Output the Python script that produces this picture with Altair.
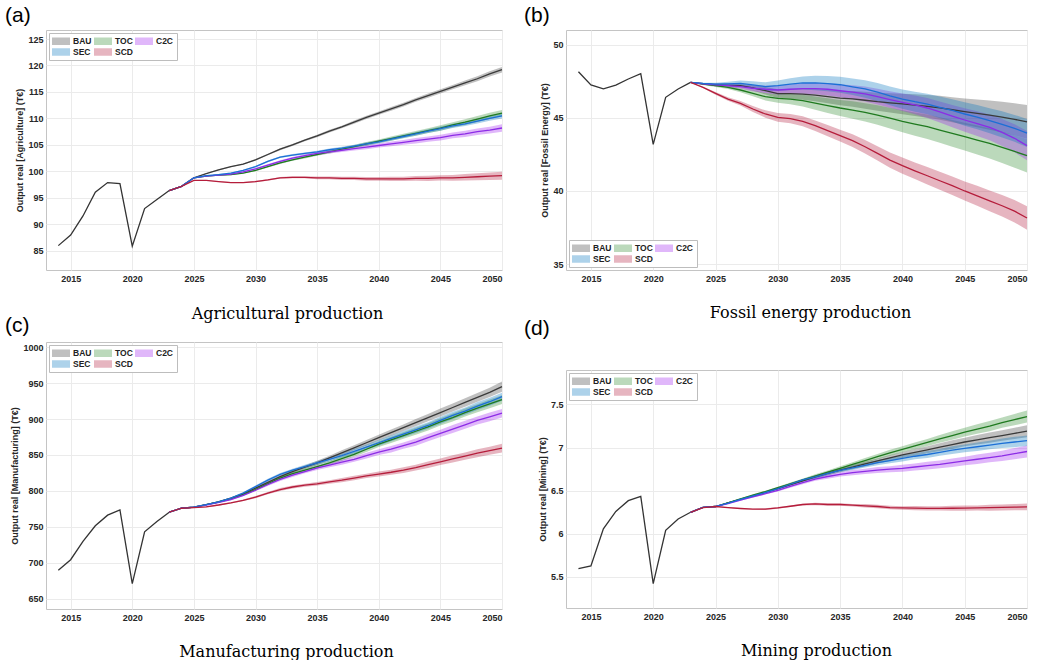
import altair as alt
import pandas as pd

SCEN_ORDER = ["BAU", "TOC", "C2C", "SEC", "SCD"]
FILL_COLORS = ["#3c3c3c", "#2a8a2a", "#a020f0", "#0072bd", "#b0183a"]
LINE_COLORS = ["#3a3a3a", "#1f7a1f", "#8c2ce6", "#1c6fd6", "#b51d3b"]
HIST_COLOR = "#333333"
SANS = "Liberation Sans"
SERIF = "DejaVu Serif"

HIST_YEARS = [2014, 2015, 2016, 2017, 2018, 2019, 2020, 2021, 2022, 2023]
SCEN_YEARS = [2023, 2024, 2025, 2026, 2027, 2028, 2029, 2030, 2031, 2032, 2033, 2034, 2035, 2036,
              2037, 2038, 2039, 2040, 2041, 2042, 2043, 2044, 2045, 2046, 2047, 2048, 2049, 2050]
X_TICKS = [2015, 2020, 2025, 2030, 2035, 2040, 2045, 2050]

# ---------- (a) Agriculture ----------
A_HIST = [86.0, 88.0, 91.6, 96.1, 97.9, 97.7, 85.9, 93.0, 94.7, 96.4]
A_BAU = [96.4, 97.2, 98.8, 99.6, 100.3, 100.9, 101.4, 102.2, 103.2, 104.2, 105.0, 105.9, 106.7, 107.6,
         108.4, 109.3, 110.2, 111.0, 111.8, 112.6, 113.5, 114.3, 115.1, 115.9, 116.7, 117.5, 118.4, 119.2]
A_TOC = [96.4, 97.2, 98.8, 99.1, 99.3, 99.4, 99.7, 100.2, 100.9, 101.6, 102.2, 102.7, 103.2, 103.7,
         104.2, 104.7, 105.2, 105.7, 106.2, 106.7, 107.2, 107.7, 108.2, 108.8, 109.3, 109.9, 110.5, 111.0]
A_C2C = [96.4, 97.2, 98.8, 99.1, 99.3, 99.5, 99.9, 100.5, 101.2, 101.9, 102.5, 103.0, 103.4, 103.7,
         104.0, 104.3, 104.6, 104.9, 105.2, 105.5, 105.8, 106.1, 106.4, 106.8, 107.1, 107.5, 107.8, 108.2]
A_SEC = [96.4, 97.2, 98.8, 99.2, 99.4, 99.7, 100.2, 100.9, 101.9, 102.7, 103.1, 103.4, 103.7, 104.1,
         104.4, 104.8, 105.2, 105.6, 106.1, 106.6, 107.1, 107.6, 108.1, 108.6, 109.0, 109.5, 110.0, 110.5]
A_SCD = [96.4, 97.2, 98.3, 98.3, 98.1, 97.9, 97.9, 98.1, 98.4, 98.8, 98.9, 98.9, 98.8, 98.8,
         98.7, 98.7, 98.6, 98.6, 98.6, 98.6, 98.7, 98.7, 98.8, 98.8, 98.9, 99.0, 99.1, 99.2]
A_BAU_BAND = [0, 0, 0.05, 0.05, 0.1, 0.1, 0.1, 0.15, 0.15, 0.2, 0.2, 0.2, 0.25, 0.25,
              0.25, 0.3, 0.3, 0.3, 0.35, 0.35, 0.35, 0.4, 0.4, 0.4, 0.45, 0.45, 0.5, 0.5]
A_TOC_BAND = [0, 0, 0.05, 0.05, 0.1, 0.1, 0.1, 0.15, 0.15, 0.2, 0.2, 0.25, 0.25, 0.3,
              0.3, 0.3, 0.35, 0.35, 0.4, 0.4, 0.45, 0.45, 0.5, 0.5, 0.55, 0.55, 0.6, 0.6]
A_C2C_BAND = [0, 0, 0.05, 0.05, 0.1, 0.1, 0.15, 0.15, 0.2, 0.2, 0.25, 0.25, 0.3, 0.3,
              0.35, 0.35, 0.4, 0.4, 0.45, 0.45, 0.5, 0.5, 0.55, 0.55, 0.6, 0.6, 0.65, 0.7]
A_SEC_BAND = [0, 0, 0.05, 0.05, 0.1, 0.1, 0.1, 0.15, 0.15, 0.15, 0.2, 0.2, 0.2, 0.25,
              0.25, 0.25, 0.3, 0.3, 0.3, 0.35, 0.35, 0.35, 0.4, 0.4, 0.4, 0.45, 0.45, 0.5]
A_SCD_BAND = [0, 0, 0.05, 0.05, 0.1, 0.1, 0.1, 0.15, 0.15, 0.15, 0.2, 0.2, 0.25, 0.25,
              0.3, 0.3, 0.35, 0.35, 0.4, 0.4, 0.45, 0.5, 0.5, 0.55, 0.6, 0.65, 0.7, 0.75]

# ---------- (b) Fossil energy ----------
B_HIST = [48.15, 47.25, 46.98, 47.23, 47.65, 48.02, 43.18, 46.4, 46.97, 47.42]
B_BAU = [47.42, 47.33, 47.25, 47.22, 47.2, 47.05, 46.85, 46.65, 46.65, 46.62, 46.55, 46.45, 46.35, 46.3,
         46.2, 46.1, 46.02, 45.95, 45.87, 45.78, 45.68, 45.55, 45.42, 45.3, 45.18, 45.05, 44.9, 44.72]
B_TOC = [47.42, 47.3, 47.2, 47.08, 46.9, 46.67, 46.44, 46.33, 46.28, 46.17, 46.0, 45.83, 45.67, 45.53,
         45.37, 45.19, 44.98, 44.76, 44.57, 44.39, 44.16, 43.94, 43.71, 43.48, 43.25, 42.98, 42.7, 42.41]
B_C2C = [47.42, 47.32, 47.25, 47.2, 47.13, 47.02, 46.95, 46.9, 46.95, 47.0, 47.0, 46.95, 46.85, 46.75,
         46.63, 46.45, 46.25, 46.06, 45.88, 45.67, 45.4, 45.12, 44.85, 44.6, 44.35, 44.0, 43.6, 43.1]
B_SEC = [47.42, 47.35, 47.3, 47.32, 47.35, 47.25, 47.13, 47.2, 47.3, 47.38, 47.38, 47.33, 47.26, 47.12,
         46.97, 46.75, 46.5, 46.28, 46.1, 45.94, 45.72, 45.5, 45.26, 45.05, 44.8, 44.55, 44.28, 43.96]
B_SCD = [47.42, 47.08, 46.67, 46.28, 45.99, 45.6, 45.26, 45.03, 44.94, 44.76, 44.46, 44.12, 43.78, 43.44,
         43.02, 42.57, 42.11, 41.73, 41.38, 41.04, 40.7, 40.36, 40.0, 39.67, 39.33, 38.99, 38.62, 38.15]
B_BAU_BAND = [0, 0.05, 0.1, 0.12, 0.15, 0.2, 0.25, 0.3, 0.34, 0.38, 0.42, 0.46, 0.5, 0.54,
              0.58, 0.62, 0.66, 0.7, 0.74, 0.78, 0.82, 0.86, 0.9, 0.95, 1.0, 1.05, 1.1, 1.15]
B_TOC_BAND = [0, 0.05, 0.1, 0.12, 0.15, 0.2, 0.25, 0.3, 0.35, 0.4, 0.45, 0.5, 0.55, 0.6,
              0.63, 0.67, 0.71, 0.75, 0.79, 0.83, 0.87, 0.91, 0.95, 0.99, 1.03, 1.07, 1.11, 1.15]
B_C2C_BAND = [0, 0.05, 0.1, 0.12, 0.15, 0.2, 0.25, 0.3, 0.33, 0.36, 0.39, 0.42, 0.45, 0.48,
              0.51, 0.54, 0.57, 0.6, 0.64, 0.68, 0.72, 0.76, 0.8, 0.84, 0.88, 0.92, 0.96, 1.0]
B_SEC_BAND = [0, 0.05, 0.1, 0.15, 0.2, 0.25, 0.3, 0.35, 0.4, 0.45, 0.5, 0.52, 0.55, 0.57,
              0.6, 0.62, 0.64, 0.66, 0.68, 0.7, 0.73, 0.76, 0.8, 0.83, 0.86, 0.89, 0.92, 0.95]
B_SCD_BAND = [0, 0.05, 0.1, 0.12, 0.15, 0.2, 0.25, 0.3, 0.32, 0.34, 0.36, 0.38, 0.4, 0.43,
              0.46, 0.49, 0.52, 0.55, 0.57, 0.59, 0.61, 0.63, 0.65, 0.68, 0.71, 0.74, 0.77, 0.8]

# ---------- (c) Manufacturing ----------
C_HIST = [690, 704.5, 730, 751.6, 766.4, 773.8, 671.3, 743.3, 757.6, 770.5]
C_BAU = [770.5, 776, 777.5, 781, 785, 790, 796, 804, 812, 820, 827, 833, 839, 846,
         853, 860, 867, 874, 881, 888, 895, 902, 909, 916, 923, 930, 937, 945]
C_TOC = [770.5, 776, 777.5, 781, 784.5, 789, 795, 802, 810, 818, 824, 829, 834, 839,
         845, 851, 858, 865, 871, 877, 883, 889, 896, 902, 909, 915, 921, 927]
C_C2C = [770.5, 776, 777.5, 780.5, 784, 788, 794, 801, 809, 816, 822, 827, 832, 836,
         840, 844, 849, 854, 858, 863, 868, 874, 880, 886, 892, 898, 903, 908]
C_SEC = [770.5, 776, 777.5, 781, 785, 790, 797, 806, 815, 823, 829, 834, 839, 844,
         849, 855, 861, 867, 873, 879, 885, 891, 898, 905, 911, 918, 924, 931]
C_SCD = [770.5, 776, 777, 778, 780.5, 783.5, 787, 791.5, 797, 802, 805.5, 808, 810, 812.5,
         815, 818, 821, 823.5, 826, 829, 832.5, 836.5, 840.5, 844.5, 848.5, 852.5, 856, 859.5]
C_BAU_BAND = [0, 0, 0.5, 0.5, 1, 1, 1.5, 1.5, 2, 2, 2.5, 2.5, 3, 3,
              3.5, 3.5, 4, 4, 4.5, 4.5, 5, 5, 5.5, 5.5, 6, 6, 6.5, 7]
C_TOC_BAND = [0, 0, 0.5, 0.5, 1, 1, 1.5, 1.5, 2, 2, 2.5, 2.5, 3, 3,
              3.5, 3.5, 4, 4, 4.5, 4.5, 5, 5, 5, 5.5, 5.5, 5.5, 6, 6]
C_C2C_BAND = [0, 0, 0.5, 0.5, 1, 1, 1.5, 1.5, 2, 2, 2.5, 2.5, 3, 3,
              3.5, 3.5, 4, 4, 4.5, 4.5, 5, 5, 5, 5.5, 5.5, 5.5, 6, 6]
C_SEC_BAND = [0, 0, 0.5, 0.5, 1, 1, 1.5, 1.5, 2, 2, 2, 2.5, 2.5, 3,
              3, 3.5, 3.5, 4, 4, 4.5, 4.5, 4.5, 5, 5, 5, 5.5, 5.5, 5.5]
C_SCD_BAND = [0, 0, 0.5, 0.5, 1, 1, 1, 1.5, 1.5, 2, 2, 2, 2.5, 2.5,
              3, 3, 3, 3.5, 3.5, 4, 4, 4.5, 4.5, 5, 5, 5.5, 5.5, 6]

# ---------- (d) Mining ----------
D_HIST = [5.596, 5.627, 6.058, 6.26, 6.385, 6.435, 5.423, 6.04, 6.173, 6.25]
D_BAU = [6.25, 6.308, 6.317, 6.36, 6.40, 6.44, 6.48, 6.525, 6.57, 6.615, 6.66, 6.70, 6.74, 6.775,
         6.81, 6.845, 6.88, 6.915, 6.945, 6.975, 7.005, 7.035, 7.065, 7.09, 7.115, 7.14, 7.165, 7.19]
D_TOC = [6.25, 6.308, 6.317, 6.36, 6.405, 6.45, 6.49, 6.535, 6.58, 6.625, 6.67, 6.715, 6.76, 6.805,
         6.85, 6.895, 6.94, 6.98, 7.02, 7.06, 7.10, 7.14, 7.18, 7.215, 7.25, 7.29, 7.325, 7.36]
D_C2C = [6.25, 6.308, 6.317, 6.35, 6.39, 6.43, 6.465, 6.505, 6.55, 6.595, 6.635, 6.665, 6.69, 6.71,
         6.725, 6.74, 6.75, 6.76, 6.775, 6.79, 6.805, 6.825, 6.845, 6.865, 6.885, 6.905, 6.93, 6.955]
D_SEC = [6.25, 6.308, 6.317, 6.355, 6.40, 6.44, 6.48, 6.525, 6.575, 6.625, 6.66, 6.70, 6.735, 6.765,
         6.795, 6.825, 6.85, 6.875, 6.90, 6.92, 6.945, 6.97, 6.99, 7.01, 7.03, 7.05, 7.065, 7.08]
D_SCD = [6.25, 6.305, 6.317, 6.305, 6.294, 6.286, 6.286, 6.30, 6.32, 6.34, 6.347, 6.34, 6.34, 6.332,
         6.325, 6.317, 6.305, 6.30, 6.298, 6.296, 6.296, 6.297, 6.298, 6.30, 6.303, 6.306, 6.31, 6.313]
D_BAU_BAND = [0, 0, 0, 0.005, 0.005, 0.01, 0.01, 0.01, 0.015, 0.015, 0.02, 0.02, 0.025, 0.025,
              0.03, 0.03, 0.035, 0.035, 0.04, 0.04, 0.045, 0.05, 0.05, 0.055, 0.06, 0.06, 0.065, 0.07]
D_TOC_BAND = [0, 0, 0, 0.005, 0.005, 0.01, 0.01, 0.01, 0.015, 0.015, 0.02, 0.02, 0.025, 0.025,
              0.03, 0.03, 0.035, 0.035, 0.04, 0.04, 0.045, 0.05, 0.05, 0.055, 0.06, 0.06, 0.065, 0.07]
D_C2C_BAND = [0, 0, 0, 0.005, 0.005, 0.01, 0.01, 0.015, 0.015, 0.02, 0.02, 0.025, 0.025, 0.03,
              0.03, 0.035, 0.035, 0.04, 0.04, 0.045, 0.045, 0.05, 0.05, 0.055, 0.055, 0.06, 0.065, 0.07]
D_SEC_BAND = [0, 0, 0, 0.005, 0.005, 0.01, 0.01, 0.01, 0.015, 0.015, 0.02, 0.02, 0.02, 0.025,
              0.025, 0.03, 0.03, 0.035, 0.035, 0.04, 0.04, 0.045, 0.045, 0.05, 0.05, 0.055, 0.06, 0.06]
D_SCD_BAND = [0, 0, 0, 0.005, 0.005, 0.005, 0.01, 0.01, 0.01, 0.01, 0.015, 0.015, 0.015, 0.015,
              0.02, 0.02, 0.02, 0.02, 0.025, 0.025, 0.025, 0.03, 0.03, 0.03, 0.035, 0.035, 0.035, 0.04]


def build_panel(hist, vals, bands, ydomain, yticks, yfmt, ytitle, caption, cap_x, cap_y,
                label, label_dx, label_dy, legend_orient, width, height):
    hist_df = pd.DataFrame({"year": HIST_YEARS, "value": hist})
    rows = []
    for name, v_list, b_list in zip(SCEN_ORDER, vals, bands):
        for yr, v, b in zip(SCEN_YEARS, v_list, b_list):
            rows.append({"year": yr, "scenario": name, "value": v, "lo": v - b, "hi": v + b})
    df = pd.DataFrame(rows)

    xscale = alt.Scale(domain=[2013, 2050], nice=False, zero=False)
    yscale = alt.Scale(domain=ydomain, nice=False, zero=False)
    xaxis = alt.Axis(values=X_TICKS, format="d", title=caption, titleFont=SERIF, titleFontSize=16,
                     titleFontWeight="normal", titleColor="black", titleX=cap_x, titleY=cap_y,
                     titleAlign="center", titleBaseline="middle",
                     labelFont=SANS, labelFontSize=9, labelFontWeight="bold", labelColor="#262626",
                     labelPadding=4, ticks=False, tickSize=0, domain=False,
                     grid=True, gridColor="#ebebeb", gridWidth=1)
    yaxis = alt.Axis(values=yticks, format=yfmt, title=ytitle, titleFont=SANS, titleFontSize=9,
                     titleFontWeight="bold", titleColor="#262626", titlePadding=3,
                     labelFont=SANS, labelFontSize=9, labelFontWeight="bold", labelColor="#262626",
                     labelPadding=3, ticks=False, tickSize=0, domain=False,
                     grid=True, gridColor="#ebebeb", gridWidth=1)
    x = alt.X("year:Q", scale=xscale, axis=xaxis)
    legend = alt.Legend(title=None, orient=legend_orient, offset=3, columns=3, direction="horizontal",
                        symbolType="M-1.8,-0.75H1.8V0.75H-1.8Z", symbolSize=100, symbolOffset=4,
                        symbolStrokeWidth=0, symbolOpacity=0.32,
                        labelFont=SANS, labelFontSize=8.5, labelFontWeight="bold",
                        labelColor="#222222", labelOffset=7, columnPadding=2, rowPadding=1,
                        padding=3, fillColor="white", strokeColor="#bdbdbd", cornerRadius=0)

    hist_layer = alt.Chart(hist_df).mark_line(color=HIST_COLOR, strokeWidth=1.3).encode(
        x=x, y=alt.Y("value:Q", scale=yscale, axis=yaxis))
    band_layer = alt.Chart(df).mark_area(fillOpacity=0.32, strokeWidth=0).encode(
        x=x, y=alt.Y("lo:Q", scale=yscale, axis=yaxis), y2="hi:Q",
        fill=alt.Fill("scenario:N", scale=alt.Scale(domain=SCEN_ORDER, range=FILL_COLORS),
                      legend=legend))
    line_layer = alt.Chart(df).mark_line(strokeWidth=1.3).encode(
        x=x, y=alt.Y("value:Q", scale=yscale, axis=yaxis),
        stroke=alt.Stroke("scenario:N", scale=alt.Scale(domain=SCEN_ORDER, range=LINE_COLORS),
                          legend=None))
    return alt.layer(hist_layer, band_layer, line_layer).properties(
        width=width, height=height,
        title=alt.TitleParams(text=label, anchor="start", frame="group", dx=label_dx, dy=label_dy,
                              offset=0, font=SANS, fontSize=21, fontWeight="normal",
                              color="black", baseline="middle"))


pa = build_panel(A_HIST, [A_BAU, A_TOC, A_C2C, A_SEC, A_SCD],
                 [A_BAU_BAND, A_TOC_BAND, A_C2C_BAND, A_SEC_BAND, A_SCD_BAND],
                 [81.4, 126.7], [85, 90, 95, 100, 105, 110, 115, 120, 125], "d",
                 "Output real [Agriculture] (T€)", "Agricultural production", 241, 43,
                 "(a)", -41, 7, "top-left", 456, 240)
pb = build_panel(B_HIST, [B_BAU, B_TOC, B_C2C, B_SEC, B_SCD],
                 [B_BAU_BAND, B_TOC_BAND, B_C2C_BAND, B_SEC_BAND, B_SCD_BAND],
                 [34.6, 51.0], [35, 40, 45, 50], "d",
                 "Output real [Fossil Energy] (T€)", "Fossil energy production", 244, 42,
                 "(b)", -42, 7, "bottom-left", 461, 240)
pc = build_panel(C_HIST, [C_BAU, C_TOC, C_C2C, C_SEC, C_SCD],
                 [C_BAU_BAND, C_TOC_BAND, C_C2C_BAND, C_SEC_BAND, C_SCD_BAND],
                 [636, 1007], [650, 700, 750, 800, 850, 900, 950, 1000], "d",
                 "Output real [Manufacturing] (T€)", "Manufacturing production", 240, 42,
                 "(c)", -41, 5, "top-left", 456, 267)
pd_ = build_panel(D_HIST, [D_BAU, D_TOC, D_C2C, D_SEC, D_SCD],
                  [D_BAU_BAND, D_TOC_BAND, D_C2C_BAND, D_SEC_BAND, D_SCD_BAND],
                  [5.14, 7.9], [5.5, 6, 6.5, 7, 7.5], "~g",
                  "Output real [Mining] (T€)", "Mining production", 250, 42,
                  "(d)", -42, -20, "top-left", 461, 238)

col1 = alt.vconcat(pa, pc, spacing=-8).resolve_scale(fill="independent", stroke="independent")
col2 = alt.vconcat(pb, pd_, spacing=-4).resolve_scale(fill="independent", stroke="independent")
chart = alt.hconcat(col1, col2, spacing=17).resolve_scale(
    fill="independent", stroke="independent"
).properties(
    padding={"left": 4, "top": 4, "right": 0, "bottom": 0},
    background="white",
).configure_view(stroke="#c4c4c4", strokeWidth=1)

chart.save("out.html", embed_options={"renderer": "svg", "actions": False})
